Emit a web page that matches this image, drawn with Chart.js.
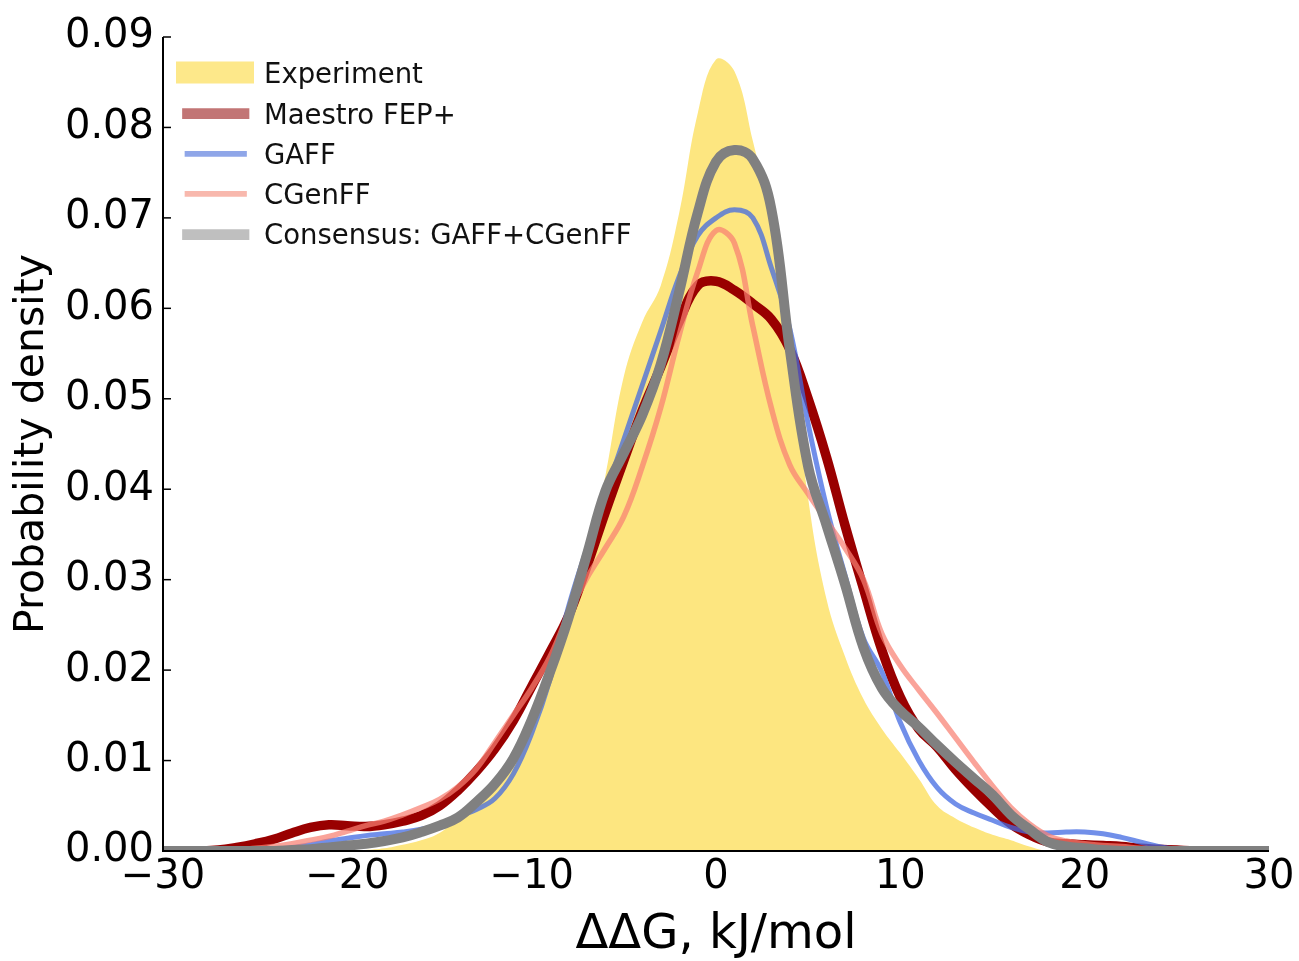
<!DOCTYPE html>
<html><head><meta charset="utf-8">
<script src="https://cdn.jsdelivr.net/npm/chart.js@4.4.1/dist/chart.umd.min.js"></script>
<style>html,body{margin:0;padding:0;background:#fff;} #wrap{width:1299px;height:961px;}</style>
</head><body><div id="wrap"><canvas id="c" width="1299" height="961"></canvas></div>
<script>
// ---- data ----
const xValues = [-30,-29,-28,-27,-26,-25,-24,-23,-22,-21,-20,-19,-18,-17,-16,-15,-14,-13,-12,-11,-10,-9,-8,-7,-6,-5,-4,-3,-2,-1,0,1,2,3,4,5,6,7,8,9,10,11,12,13,14,15,16,17,18,19,20,21,22,23,24,25,26,27,28,29,30];

const experiment = [0,0,0,0,0,0,0,0,0,0,0,
  0.0001,0.0003,0.0007,0.0012,0.0020,0.0036,0.0055,0.0075,0.0105,0.0145,
  0.0200,0.0260,0.0320,0.0415,0.0525,0.0585,0.0625,0.0705,0.0815,0.0875,
  0.0862,0.0785,0.0695,0.0570,0.0390,0.0278,0.0215,0.0168,0.0135,0.0108,
  0.0080,0.0050,0.0036,0.0026,0.0018,0.0012,0.0005,0,0,0,
  0,0,0,0,0,0,0,0,0,0];

const maestro = [0,0,0,0.0001,0.0004,0.0008,0.0013,0.0020,0.0026,0.0029,0.0028,
  0.0027,0.0029,0.0033,0.0039,0.0050,0.0067,0.0088,0.0113,0.0144,0.0182,
  0.0220,0.0260,0.0315,0.0375,0.0432,0.0487,0.0535,0.0585,0.0625,0.0630,
  0.0620,0.0605,0.0588,0.0555,0.0500,0.0435,0.0360,0.0290,0.0222,0.0170,
  0.0135,0.0115,0.0090,0.0068,0.0048,0.0030,0.0018,0.0010,0.0008,0.0007,
  0.0006,0.0005,0.0003,0.0002,0.0001,0,0,0,0,0];

const gaff = [0,0,0,0,0,0.0001,0.0002,0.0004,0.0007,0.0011,0.0014,
  0.0017,0.0019,0.0021,0.0024,0.0029,0.0038,0.0046,0.0058,0.0085,0.0130,
  0.0190,0.0270,0.0335,0.0395,0.0455,0.0515,0.0575,0.0635,0.0680,0.0700,
  0.0709,0.0700,0.0645,0.0578,0.0472,0.0380,0.0305,0.0235,0.0198,0.0142,
  0.0100,0.0070,0.0052,0.0042,0.0034,0.0026,0.0021,0.0020,0.0021,0.0021,
  0.0019,0.0015,0.0010,0.0005,0.0002,0,0,0,0,0];

const cgenff = [0,0,0,0,0.0001,0.0003,0.0005,0.0008,0.0012,0.0016,0.0022,
  0.0028,0.0033,0.0040,0.0048,0.0057,0.0071,0.0091,0.0120,0.0150,0.0180,
  0.0215,0.0262,0.0302,0.0335,0.0370,0.0425,0.0490,0.0570,0.0640,0.0686,
  0.0672,0.0580,0.0490,0.0427,0.0395,0.0365,0.0335,0.0300,0.0240,0.0205,
  0.0178,0.0152,0.0125,0.0098,0.0072,0.0048,0.0030,0.0017,0.0011,0.0008,
  0.0006,0.0005,0.0003,0.0002,0.0001,0,0,0,0,0];

const consensus = [0,0,0,0,0,0,0,0.0001,0.0002,0.0004,0.0006,
  0.0008,0.0011,0.0015,0.0021,0.0028,0.0037,0.0054,0.0074,0.0102,0.0145,
  0.0198,0.0258,0.0328,0.0398,0.0440,0.0482,0.0538,0.0618,0.0705,0.0762,
  0.0775,0.0765,0.0710,0.0555,0.0425,0.0360,0.0295,0.0225,0.0180,0.0155,
  0.0137,0.0117,0.0098,0.0080,0.0062,0.0040,0.0024,0.0010,0.0005,0.0003,
  0.0001,0,0,0,0,0,0,0,0,0];

const seriesLabels = ['Experiment','Maestro FEP+','GAFF','CGenFF','Consensus: GAFF+CGenFF'];
const xTickValues = [-30,-20,-10,0,10,20,30];
const xTickLabels = ['\u221230','\u221220','\u221210','0','10','20','30'];
const yTickValues = [0,0.01,0.02,0.03,0.04,0.05,0.06,0.07,0.08,0.09];
const yTickLabels = ['0.00','0.01','0.02','0.03','0.04','0.05','0.06','0.07','0.08','0.09'];
const xTitle = '\u0394\u0394G, kJ/mol';
const yTitle = 'Probability density';

// ---- styles ----
const FONT = "'DejaVu Sans', sans-serif";
const legendColors = ['#fde88a','#c27575','#8fa6e8','#f8b8ad','#bfbfbf'];
const legendWidths = [22,10.7,5.7,5.7,10.7];

function toPts(arr){ return xValues.map((x,i)=>({x:x, y:arr[i]})); }

const common = {pointRadius:0, tension:0.4, clip:0, fill:false};

const datasets = [
  Object.assign({}, common, {label:seriesLabels[0], data:toPts(experiment), order:5, fill:'origin', backgroundColor:'#fde680', borderColor:'rgba(0,0,0,0)', borderWidth:0}),
  Object.assign({}, common, {label:seriesLabels[1], data:toPts(maestro), order:4, borderColor:'#990000', borderWidth:9.5}),
  Object.assign({}, common, {label:seriesLabels[2], data:toPts(gaff), order:3, borderColor:'rgba(65,105,225,0.75)', borderWidth:5}),
  Object.assign({}, common, {label:seriesLabels[3], data:toPts(cgenff), order:2, borderColor:'rgba(248,128,114,0.72)', borderWidth:5.5}),
  Object.assign({}, common, {label:seriesLabels[4], data:toPts(consensus), order:1, borderColor:'#808080', borderWidth:10})
];

const framePlugin = {
  id:'frame',
  afterDatasetsDraw(chart){
    const {ctx, chartArea:a, scales} = chart;
    ctx.save();
    ctx.strokeStyle = '#000';
    ctx.lineWidth = 2;
    ctx.beginPath();
    ctx.moveTo(a.left, a.top); ctx.lineTo(a.left, a.bottom); ctx.lineTo(a.right, a.bottom);
    ctx.stroke();
    ctx.lineWidth = 1.5;
    yTickValues.forEach(v=>{
      const y = scales.y.getPixelForValue(v);
      ctx.beginPath(); ctx.moveTo(a.left, y); ctx.lineTo(a.left+8, y); ctx.stroke();
    });
    ctx.restore();
  },
  afterDraw(chart){
    const ctx = chart.ctx;
    ctx.save();
    const rowSwatch = [72.5,113.7,153.8,193.8,234.7];
    const rowBase = [83,123.5,163.5,204,244];
    ctx.font = "27.5px " + FONT;
    ctx.textBaseline = 'alphabetic';
    seriesLabels.forEach((lab,i)=>{
      if(i===0){
        ctx.fillStyle = legendColors[0];
        ctx.fillRect(176, rowSwatch[0]-11, 78, 22);
      } else {
        ctx.strokeStyle = legendColors[i];
        ctx.lineWidth = legendWidths[i];
        ctx.lineCap = 'square';
        ctx.beginPath(); ctx.moveTo(187.5, rowSwatch[i]); ctx.lineTo(244, rowSwatch[i]); ctx.stroke();
      }
      ctx.fillStyle = '#111';
      ctx.fillText(lab, 264, rowBase[i]);
    });
    ctx.restore();
  }
};

new Chart(document.getElementById('c'), {
  type:'line',
  data:{datasets:datasets},
  options:{
    responsive:false, animation:false, devicePixelRatio:1,
    layout:{padding:{top:37,right:30,left:0,bottom:0}},
    plugins:{legend:{display:false}, tooltip:{enabled:false}},
    scales:{
      x:{type:'linear', min:-30, max:30,
        afterBuildTicks:s=>{s.ticks = xTickValues.map(v=>({value:v}));},
        afterFit:s=>{s.height = 110;},
        ticks:{callback:(v,i)=>xTickLabels[i], font:{family:FONT,size:40}, color:'#000', padding:3, maxRotation:0, autoSkip:false},
        grid:{display:false, drawTicks:false}, border:{display:false},
        title:{display:true, text:xTitle, font:{family:FONT,size:48}, color:'#000', padding:{top:0,bottom:-3}}
      },
      y:{type:'linear', min:0, max:0.09,
        afterBuildTicks:s=>{s.ticks = yTickValues.map(v=>({value:v}));},
        afterFit:s=>{s.width = 163;},
        ticks:{callback:(v,i)=>yTickLabels[i], font:{family:FONT,size:40}, color:'#000', padding:9, autoSkip:false},
        grid:{display:false, drawTicks:false}, border:{display:false},
        title:{display:true, text:yTitle, font:{family:FONT,size:41}, color:'#000', padding:{top:8,bottom:0}}
      }
    }
  },
  plugins:[framePlugin]
});
</script>
</body></html>
